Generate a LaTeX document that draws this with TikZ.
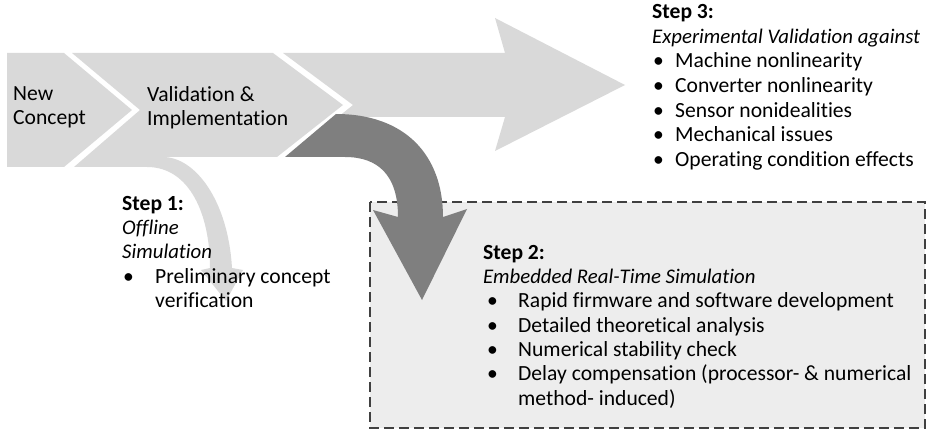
\documentclass[tikz,border=0pt]{standalone}
\usepackage{fontspec}
\setmainfont{Carlito}[Ligatures=NoCommon]
\usetikzlibrary{positioning}

\definecolor{lightgrey}{HTML}{D9D9D9}
\definecolor{darkgrey}{HTML}{7F7F7F}
\definecolor{boxfill}{HTML}{EDEDED}
\definecolor{boxline}{HTML}{404040}

\newcommand{\itm}[2]{\makebox[#1][l]{\hspace*{#2}\textbullet}}
\newcommand{\itl}[1]{{\fontsize{20.8}{24}\selectfont\itshape #1}}

\begin{document}
\begin{tikzpicture}[x=1pt, y=-1pt,
    lbl/.style={inner sep=0pt, anchor=north west, align=left, font=\fontsize{21.6}{24.3}\selectfont},
    shade1/.style={fill=lightgrey},
    shade2/.style={fill=darkgrey}]
    \useasboundingbox (0,0) rectangle (928,430);

    % box of step 2
    \draw[boxline, fill=boxfill, dash pattern=on 10pt off 5pt, line width=1.2pt] (370,202) rectangle (925,428);

    % long arrow to step 3
    \fill[shade1] (283,53) -- (505,53) -- (495,18) -- (625,85) -- (495,151) -- (505,117) -- (338,117) -- (353,105) -- cycle;

    % dark arrow into step 2
    \fill[shade2] (336,114) .. controls (405,114) and (443,155) .. (443,217) -- (467,209) -- (422,300) -- (373,210) -- (398,217) .. controls (398,175) and (378,157) .. (345,157) -- (285,157) -- cycle;

    % chevrons
    \fill[shade1] (7,53) -- (64,53) -- (132,110) -- (64,167) -- (7,167) -- cycle;
    \fill[shade1] (72,53) -- (273,53) -- (343,105) -- (277,157) -- (160,157) -- (160,167) -- (74,167) -- (140,110) -- cycle;

    % light arrow into step 1
    \fill[shade1] (150,157) -- (163,157) .. controls (195,157) and (228,200) .. (232,268) -- (243,270) -- (226,301) -- (201,270) -- (210,268) .. controls (210,215) and (190,167) .. (147,167) -- cycle;

    \node[lbl] (newconcept) at (13,86) {New\\Concept};
    \node[lbl] (validation) at (147,86) {Validation \&\\Implementation};

    \node[lbl] (step1) at (122,196) {\textbf{Step 1:}\\\itl{Offline}\\\itl{Simulation}\\
        \itm{33pt}{1pt}Preliminary concept\\\hspace*{33pt}verification};
    \node[lbl] (step2) at (483,245) {\textbf{Step 2:}\\\itl{Embedded Real-Time Simulation}\\
        \itm{35pt}{4pt}Rapid firmware and software development\\
        \itm{35pt}{4pt}Detailed theoretical analysis\\
        \itm{35pt}{4pt}Numerical stability check\\
        \itm{35pt}{4pt}Delay compensation (processor- \& numerical\\
        \hspace*{35pt}method- induced)};
    \node[lbl, font=\fontsize{21.6}{24.7}\selectfont] (step3) at (652,4) {\textbf{Step 3:}\\\itl{Experimental Validation against}\\
        \itm{23pt}{1pt}Machine nonlinearity\\
        \itm{23pt}{1pt}Converter nonlinearity\\
        \itm{23pt}{1pt}Sensor nonidealities\\
        \itm{23pt}{1pt}Mechanical issues\\
        \itm{23pt}{1pt}Operating condition effects};
\end{tikzpicture}
\end{document}
